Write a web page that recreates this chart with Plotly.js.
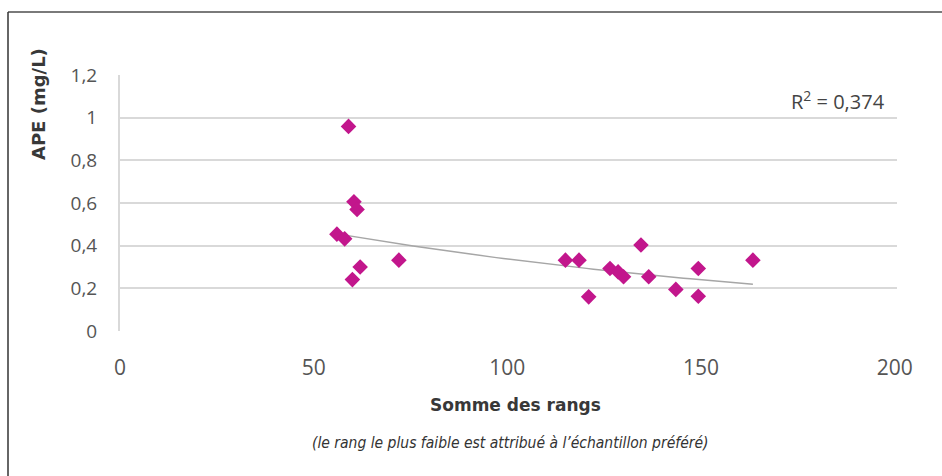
<!DOCTYPE html>
<html>
<head>
<meta charset="utf-8">
<script src="https://cdn.plot.ly/plotly-3.0.1.min.js"></script>
<style>html,body{margin:0;padding:0;background:#fff;}#chart{width:942px;height:476px;}</style>
</head>
<body>
<div id="chart"></div>
<script>
// ---- Data ----
const rankSum = [56, 58, 59, 60, 60.4, 61.2, 62, 72, 115, 118.5, 121, 126.5, 128.6, 130, 134.5, 136.5, 143.5, 149.3, 149.3, 163.4];
const apeValues = [0.454, 0.432, 0.959, 0.241, 0.606, 0.570, 0.30, 0.332, 0.332, 0.332, 0.16, 0.293, 0.277, 0.254, 0.403, 0.254, 0.195, 0.293, 0.163, 0.332];
const xTickVals = [0, 50, 100, 150, 200];
const xTickText = ['0', '50', '100', '150', '200'];
const yTickVals = [0, 0.2, 0.4, 0.6, 0.8, 1.0, 1.2];
const yTickText = ['0', '0,2', '0,4', '0,6', '0,8', '1', '1,2'];
const xTitle = 'Somme des rangs';
const yTitle = 'APE (mg/L)';
const r2Label = 'R<sup>2</sup> = 0,374';
const caption = "(le rang le plus faible est attribué à l’échantillon préféré)";

// ---- Exponential trendline (least squares on ln y), from min x to max x ----
const n = rankSum.length;
let sx = 0, sy = 0, sxx = 0, sxy = 0;
for (let i = 0; i < n; i++) {
  const lx = rankSum[i], ly = Math.log(apeValues[i]);
  sx += lx; sy += ly; sxx += lx * lx; sxy += lx * ly;
}
const b = (n * sxy - sx * sy) / (n * sxx - sx * sx);
const a = Math.exp((sy - b * sx) / n);
const xmin = Math.min(...rankSum), xmax = Math.max(...rankSum);
const trendX = [], trendY = [];
for (let k = 0; k <= 60; k++) {
  const x = xmin + (xmax - xmin) * k / 60;
  trendX.push(x); trendY.push(a * Math.exp(b * x));
}

// ---- Geometry helpers (pixel -> paper) ----
const L = 120, T = 75, W = 777, H = 256;
const px = p => (p - L) / W;
const py = p => (T + H - p) / H;

const traces = [
  {
    x: trendX, y: trendY, type: 'scatter', mode: 'lines',
    line: {color: '#a6a6a6', width: 1.5}, hoverinfo: 'skip', showlegend: false
  },
  {
    x: rankSum, y: apeValues, type: 'scatter', mode: 'markers',
    marker: {symbol: 'diamond', size: 12, color: '#c2168c', line: {width: 0}},
    showlegend: false
  }
];

const layout = {
  width: 942, height: 476,
  margin: {l: L, r: 942 - L - W, t: T, b: 476 - T - H, pad: 0},
  paper_bgcolor: '#ffffff', plot_bgcolor: '#ffffff',
  showlegend: false,
  xaxis: {
    range: [0, 200.6], tickmode: 'array', tickvals: xTickVals, ticktext: xTickText,
    showgrid: false, zeroline: false, showline: false,
    ticks: '', ticklabelstandoff: 22,
    tickfont: {family: 'Open Sans, sans-serif', size: 21, color: '#555555'},
    fixedrange: true
  },
  yaxis: {
    range: [0, 1.2], tickmode: 'array', tickvals: yTickVals, ticktext: yTickText,
    showgrid: true, gridcolor: '#d9d9d9', gridwidth: 2,
    zeroline: false, showline: true, linecolor: '#d9d9d9', linewidth: 2,
    ticks: '', ticklabelstandoff: 17,
    tickfont: {family: 'Open Sans, sans-serif', size: 19, color: '#555555'},
    fixedrange: true
  },
  annotations: [
    {xref: 'paper', yref: 'paper', x: px(515), y: py(405), text: xTitle, showarrow: false,
     xanchor: 'center', yanchor: 'middle',
     font: {family: 'DejaVu Sans, sans-serif', size: 17, weight: 'bold', color: '#383838'}},
    {xref: 'paper', yref: 'paper', x: px(38), y: py(104), text: yTitle, showarrow: false,
     textangle: -90, xanchor: 'center', yanchor: 'middle',
     font: {family: 'DejaVu Sans, sans-serif', size: 18, weight: 'bold', color: '#383838'}},
    {xref: 'paper', yref: 'paper', x: px(887), y: py(100), text: r2Label, showarrow: false,
     xanchor: 'right', yanchor: 'middle',
     font: {family: 'Open Sans, sans-serif', size: 20, color: '#444444'}},
    {xref: 'paper', yref: 'paper', x: px(510), y: py(443), text: '<i>' + caption + '</i>', showarrow: false,
     xanchor: 'center', yanchor: 'middle',
     font: {family: 'Liberation Sans Narrow, DejaVu Sans Condensed, sans-serif', size: 15.5, color: '#333333'}}
  ],
  shapes: [
    {type: 'line', xref: 'paper', yref: 'paper', x0: px(8), x1: px(960), y0: py(12), y1: py(12),
     line: {color: '#7a7a7a', width: 2}},
    {type: 'line', xref: 'paper', yref: 'paper', x0: px(8), x1: px(8), y0: py(12), y1: py(490),
     line: {color: '#333333', width: 1.5}}
  ]
};

Plotly.newPlot('chart', traces, layout, {displayModeBar: false, staticPlot: true});
</script>
</body>
</html>
